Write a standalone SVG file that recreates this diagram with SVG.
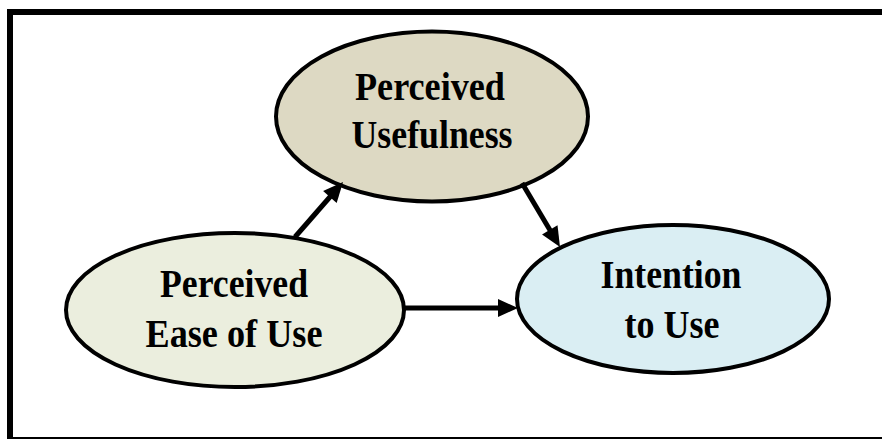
<svg xmlns="http://www.w3.org/2000/svg" width="882" height="439" viewBox="0 0 882 439">
  <style>
    .frame { fill: #ffffff; stroke: #000000; stroke-width: 6; }
    .node { stroke: #000000; stroke-width: 4; }
    .label { font-family: "Liberation Serif", "Times New Roman", serif; font-weight: bold; font-size: 39px; fill: #000000; text-anchor: middle; }
    .edge { stroke: #000000; stroke-width: 5; fill: none; marker-end: url(#arrow); }
  </style>
  <defs>
    <marker id="arrow" markerUnits="userSpaceOnUse" markerWidth="20" markerHeight="18" refX="2" refY="9" orient="auto" overflow="visible">
      <path d="M0,0 L20,9 L0,18 z" fill="#000000"/>
    </marker>
  </defs>

  <!-- outer border -->
  <rect class="frame" x="10" y="12" width="880" height="428"/>

  <g id="node-usefulness">
    <ellipse class="node" cx="432" cy="116.5" rx="156" ry="85" fill="#DDD9C3"/>
    <text class="label" x="430" y="100" textLength="150" lengthAdjust="spacingAndGlyphs">Perceived</text>
    <text class="label" x="432" y="148" textLength="161" lengthAdjust="spacingAndGlyphs">Usefulness</text>
  </g>

  <g id="node-ease">
    <ellipse class="node" cx="235" cy="310" rx="169" ry="77" fill="#EBEEDE"/>
    <text class="label" x="234" y="297" textLength="148" lengthAdjust="spacingAndGlyphs">Perceived</text>
    <text class="label" x="234" y="347" textLength="177" lengthAdjust="spacingAndGlyphs">Ease of Use</text>
  </g>

  <g id="node-intention">
    <ellipse class="node" cx="673" cy="299" rx="156" ry="74" fill="#DAEEF3"/>
    <text class="label" x="671" y="288" textLength="141" lengthAdjust="spacingAndGlyphs">Intention</text>
    <text class="label" x="672" y="338" textLength="95" lengthAdjust="spacingAndGlyphs">to Use</text>
  </g>

  <g id="connectors">
    <line class="edge" x1="295" y1="237" x2="331.2" y2="195.5"/>
    <line class="edge" x1="522" y1="183" x2="550.8" y2="231.5"/>
    <line class="edge" x1="405" y1="308" x2="500" y2="308"/>
  </g>
</svg>
